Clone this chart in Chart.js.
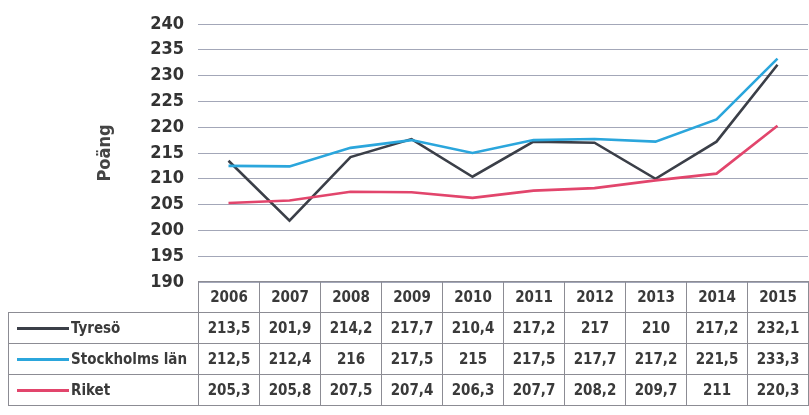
<!DOCTYPE html>
<html>
<head>
<meta charset="utf-8">
<script src="https://cdn.jsdelivr.net/npm/chart.js@4"></script>
<style>
  body { margin: 0; background: #fff; }
  #wrap { position: relative; width: 809px; height: 415px; }
  #box { position: absolute; left: 0; top: 0; width: 809px; height: 305px; }
  #tabell { position: absolute; left: 8px; top: 281px; border-collapse: collapse;
            font-family: "DejaVu Sans Condensed", "DejaVu Sans", sans-serif; font-weight: bold;
            color: #3a3a3a; font-size: 15px; table-layout: fixed; }
  #tabell td { border: 1px solid #8c8c94; height: 30px; padding: 0; text-align: center; white-space: nowrap; }
  #tabell tr.head td.blank { border: none; }
  #tabell td.leg { text-align: left; padding-left: 8px; }
  .linje { display: inline-block; width: 52px; height: 3px; vertical-align: middle; margin-right: 2px; }
</style>
</head>
<body>
<div id="wrap">
  <div id="box"><canvas id="chartPoang"></canvas></div>
  <table id="tabell"></table>
</div>
<script>
// data
const years = ['2006', '2007', '2008', '2009', '2010', '2011', '2012', '2013', '2014', '2015'];
const tyreso = [213.5, 201.9, 214.2, 217.7, 210.4, 217.2, 217, 210, 217.2, 232.1];
const stockholm = [212.5, 212.4, 216, 217.5, 215, 217.5, 217.7, 217.2, 221.5, 233.3];
const riket = [205.3, 205.8, 207.5, 207.4, 206.3, 207.7, 208.2, 209.7, 211, 220.3];
const seriesNames = ['Tyresö', 'Stockholms län', 'Riket'];
const colors = ['#3b3f48', '#2ba6dc', '#e2456c'];
const yMin = 190, yMax = 240, yStep = 5;

let ctx = document.getElementById('chartPoang');
let chartPoang = new Chart(ctx, {
    type: 'line',
    data: {
        labels: years,
        datasets: [
            { label: seriesNames[2], data: riket, borderColor: colors[2] },
            { label: seriesNames[1], data: stockholm, borderColor: colors[1] },
            { label: seriesNames[0], data: tyreso, borderColor: colors[0] }
        ]
    },
    options: {
        responsive: true,
        maintainAspectRatio: false,
        animation: false,
        layout: { padding: { left: 95, top: 24, right: 1, bottom: 2 } },
        elements: {
            line: { borderWidth: 2.6, tension: 0 },
            point: { radius: 0 }
        },
        plugins: {
            legend: { display: false },
            tooltip: { enabled: false }
        },
        scales: {
            x: {
                display: false,
                offset: true
            },
            y: {
                min: yMin,
                max: yMax,
                afterFit: function(scale) { scale.width = 103; },
                ticks: {
                    stepSize: yStep,
                    autoSkip: false,
                    padding: 14,
                    color: '#333',
                    font: { family: 'DejaVu Sans Condensed', weight: 'bold', size: 18, lineHeight: 1 }
                },
                grid: { color: '#a3a7b8', drawTicks: false },
                border: { display: false },
                title: {
                    display: true,
                    text: 'Poäng',
                    color: '#444',
                    padding: 0,
                    font: { family: 'DejaVu Sans Condensed', weight: 'bold', size: 18 }
                }
            }
        }
    }
});

// tabellen under grafen
function fmt(v) { return String(v).replace('.', ','); }
let area = chartPoang.chartArea;
let colW = (area.right - area.left) / years.length;
let legW = area.left - 8;
let table = document.getElementById('tabell');
let html = '<colgroup><col style="width:' + legW + 'px">';
for (let i = 0; i < years.length; i++) html += '<col style="width:' + colW + 'px">';
html += '</colgroup><tr class="head"><td class="blank"></td>';
years.forEach(y => { html += '<td>' + y + '</td>'; });
html += '</tr>';
[tyreso, stockholm, riket].forEach((serie, i) => {
    html += '<tr><td class="leg"><span class="linje" style="background:' + colors[i] + '"></span>' + seriesNames[i] + '</td>';
    serie.forEach(v => { html += '<td>' + fmt(v) + '</td>'; });
    html += '</tr>';
});
table.innerHTML = html;
</script>
</body>
</html>
